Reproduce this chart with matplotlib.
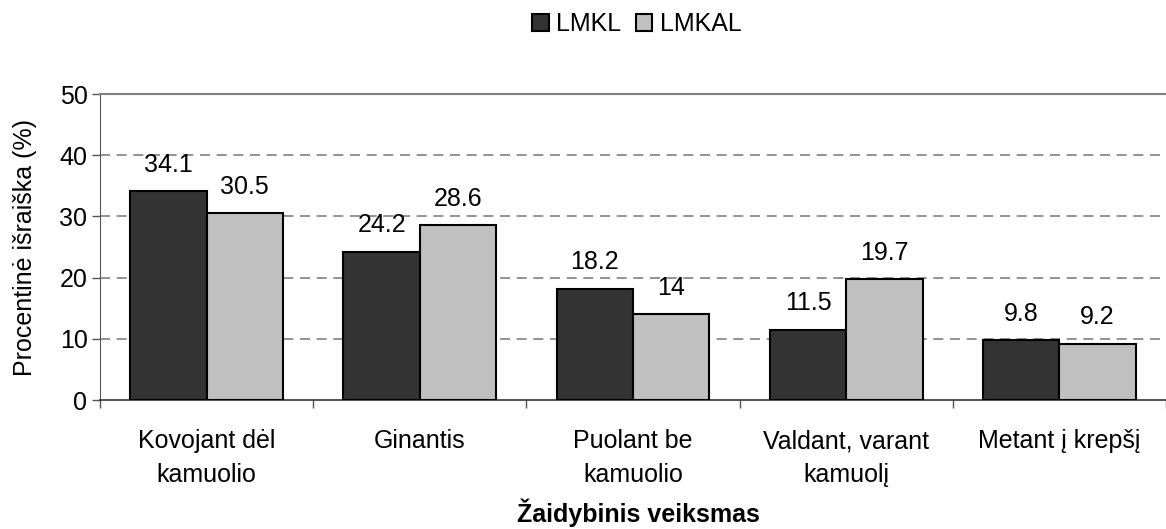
import numpy as np
import matplotlib.pyplot as plt
from matplotlib.patches import Patch

categories = ['Kovojant dėl\nkamuolio', 'Ginantis', 'Puolant be\nkamuolio',
              'Valdant, varant\nkamuolį', 'Metant į krepšį']
lmkl = [34.1, 24.2, 18.2, 11.5, 9.8]
lmkal = [30.5, 28.6, 14, 19.7, 9.2]
series_names = ['LMKL', 'LMKAL']

plt.rcParams['font.family'] = ['Liberation Sans', 'DejaVu Sans']
fs = 18

fig = plt.figure(figsize=(11.66, 5.29), dpi=100)
ax = fig.add_axes([100 / 1166, 1 - 400 / 529, 1 - 100 / 1166, (400 - 94) / 529])

x = np.arange(len(categories))
w = 0.358
colors = ['#333333', '#c0c0c0']
for i, (vals, col) in enumerate(zip([lmkl, lmkal], colors)):
    pos = x + (i - 0.5) * w
    ax.bar(pos, vals, w, color=col, edgecolor='black', linewidth=1.5, zorder=3)
    for px, v in zip(pos, vals):
        ax.annotate(f'{v:g}', (px, v), xytext=(0, 14), textcoords='offset points',
                    ha='center', va='baseline', fontsize=fs)

ax.set_ylim(0, 50)
ax.set_xlim(-0.5, (1166 - 100) / 215 - 0.5)
ax.set_yticks(range(0, 51, 10))
for yv in range(10, 50, 10):
    ax.axhline(yv, color='#808080', linestyle=(0, (6, 4)), linewidth=1.2, zorder=1)

ax.set_xticks(np.arange(-0.5, len(categories), 1))
ax.set_xticklabels([])
ax.set_xticks(x, minor=True)
ax.set_xticklabels(categories, minor=True, fontsize=fs, linespacing=1.5)
ax.tick_params(axis='x', which='minor', length=0, pad=21)
ax.tick_params(axis='x', which='major', length=6, width=1, color='#555555')
ax.tick_params(axis='y', length=6, width=1, color='#555555', labelsize=fs, pad=3)

ax.spines['right'].set_visible(False)
ax.spines['top'].set_color('#808080')
ax.spines['top'].set_linewidth(1.5)
ax.spines['left'].set_color('#555555')
ax.spines['bottom'].set_color('#333333')
ax.spines['bottom'].set_linewidth(1.2)

ax.set_ylabel('Procentinė išraiška (%)', fontsize=fs, labelpad=16)
fig.text(638 / 1166, 1 - 513 / 529, 'Žaidybinis veiksmas', fontsize=fs,
         fontweight='bold', ha='center', va='center')

handles = [Patch(facecolor=c, edgecolor='black', linewidth=1.5) for c in colors]
fig.legend(handles, series_names, loc='center', bbox_to_anchor=(637 / 1166, 1 - 24 / 529),
           ncol=2, frameon=False, fontsize=fs, handlelength=0.65, handleheight=0.65,
           handletextpad=0.3, columnspacing=0.6, borderpad=0)

fig.savefig('out.png', dpi=100)
